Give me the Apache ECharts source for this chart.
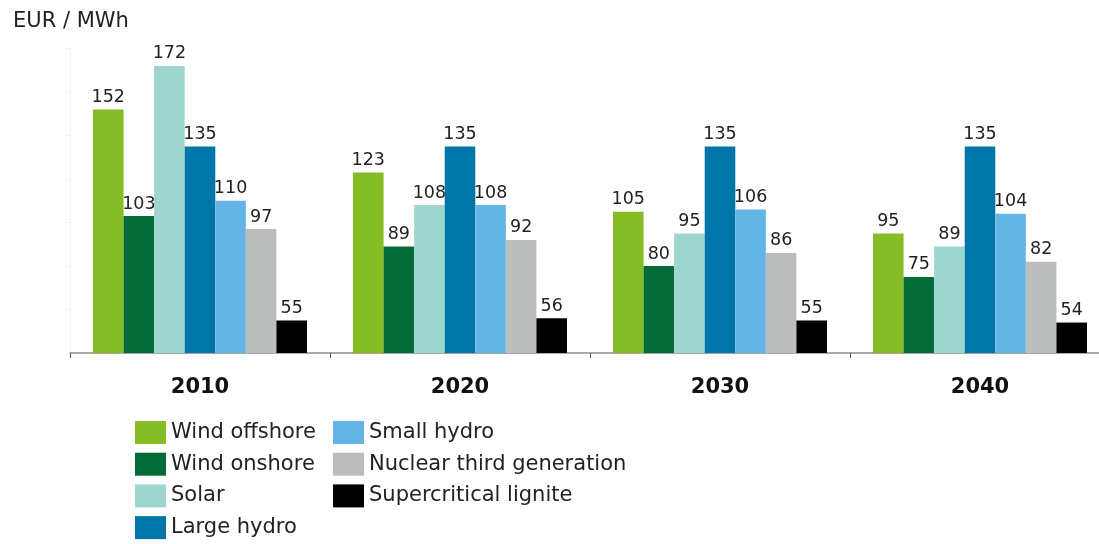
<!DOCTYPE html>
<html>
<head>
<meta charset="utf-8">
<script src="https://cdn.jsdelivr.net/npm/echarts@6/dist/echarts.min.js"></script>
<style>
html,body{margin:0;padding:0;background:#fff;}
#chart{width:1099px;height:544px;}
</style>
</head>
<body>
<div id="chart"></div>
<script>
const categories = ['2010', '2020', '2030', '2040'];
const seriesNames = ['Wind offshore', 'Wind onshore', 'Solar', 'Large hydro', 'Small hydro', 'Nuclear third generation', 'Supercritical lignite'];
const windOffshore = [152, 123, 105, 95];
const windOnshore = [103, 89, 80, 75];
const solar = [172, 108, 95, 89];
const largeHydro = [135, 135, 135, 135];
const smallHydro = [110, 108, 106, 104];
const nuclear = [97, 92, 86, 82];
const lignite = [55, 56, 55, 54];
const seriesValues = [windOffshore, windOnshore, solar, largeHydro, smallHydro, nuclear, lignite];
const colors = ['#86bc25', '#046a38', '#9fd5cf', '#0076a8', '#62b5e5', '#bbbcbc', '#000000'];

const FONT = '"DejaVu Sans", Verdana, sans-serif';
const chart = echarts.init(document.getElementById('chart'));

const series = seriesNames.map((name, i) => ({
  name: name,
  type: 'bar',
  data: seriesValues[i],
  barGap: '0%',
  barCategoryGap: '17.7%',
  itemStyle: { color: colors[i] },
  label: {
    show: true,
    position: 'top',
    distance: 3,
    color: '#222',
    fontSize: 17.5,
    fontFamily: FONT
  }
}));

const legendText = { color: '#222', fontSize: 21, fontFamily: FONT };

chart.setOption({
  animation: false,
  backgroundColor: '#fff',
  title: {
    text: 'EUR / MWh',
    left: 8,
    top: 6,
    textStyle: { color: '#222', fontSize: 21, fontWeight: 'normal', fontFamily: FONT }
  },
  grid: { left: 70, top: 48.5, width: 1040, height: 304.5, containLabel: false, outerBoundsMode: 'none' },
  legend: [
    {
      data: seriesNames.slice(0, 4),
      orient: 'vertical',
      left: 135,
      top: 421,
      itemWidth: 31,
      itemHeight: 23,
      itemGap: 8.7,
      padding: 0,
      selectedMode: false,
      icon: 'rect',
      textStyle: legendText
    },
    {
      data: seriesNames.slice(4),
      orient: 'vertical',
      left: 333,
      top: 421,
      itemWidth: 31,
      itemHeight: 23,
      itemGap: 8.7,
      padding: 0,
      selectedMode: false,
      icon: 'rect',
      textStyle: legendText
    }
  ],
  xAxis: {
    type: 'category',
    data: categories,
    axisLine: { show: true, lineStyle: { color: '#8c8c8c', width: 1.5 } },
    axisTick: { show: true, length: 5, lineStyle: { color: '#555' } },
    axisLabel: { color: '#111', fontSize: 21, fontWeight: 'bold', fontFamily: FONT, margin: 24 }
  },
  yAxis: {
    type: 'value',
    min: 40,
    max: 180,
    interval: 20,
    axisLine: { show: true, lineStyle: { color: '#f2f2f2' } },
    axisTick: { show: true, length: 5, lineStyle: { color: '#f2f2f2' } },
    axisLabel: { show: false },
    splitLine: { show: false }
  },
  series: series
});
</script>
</body>
</html>
